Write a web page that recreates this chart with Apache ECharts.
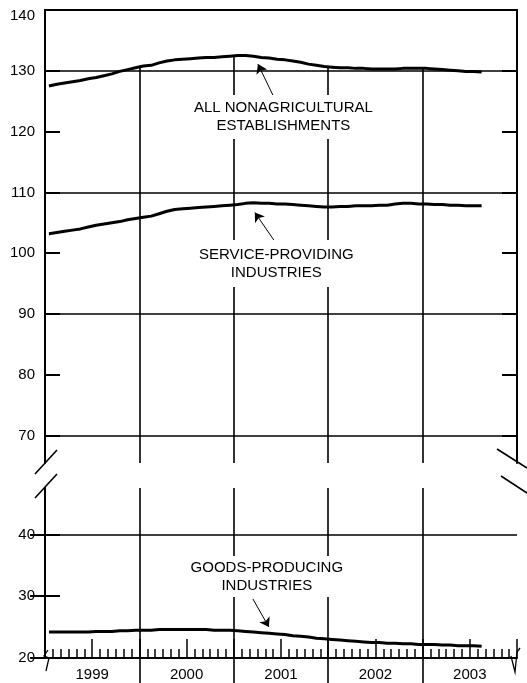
<!DOCTYPE html>
<html><head><meta charset="utf-8">
<script src="https://cdn.jsdelivr.net/npm/echarts@6/dist/echarts.min.js"></script>
<style>html,body{margin:0;padding:0;background:#fff}#c{width:527px;height:683px}</style>
</head><body><div id="c"></div>
<script>
const years = ['1999','2000','2001','2002','2003'];
const allNonag = [
127.5,127.8,128.0,128.2,128.4,128.7,128.9,129.2,129.5,129.9,130.2,130.5,
130.8,130.9,131.3,131.6,131.8,131.9,132.0,132.1,132.2,132.2,132.3,132.4,
132.5,132.5,132.4,132.2,132.1,131.9,131.8,131.6,131.4,131.1,130.9,130.7,
130.6,130.5,130.5,130.4,130.4,130.3,130.3,130.3,130.3,130.4,130.4,130.4,
130.4,130.3,130.2,130.1,130.0,129.9,129.9,129.8];
const serviceProviding = [
103.2,103.4,103.6,103.8,104.0,104.3,104.6,104.8,105.0,105.2,105.5,105.7,
105.9,106.1,106.5,106.9,107.2,107.3,107.4,107.5,107.6,107.7,107.8,107.9,
108.0,108.2,108.3,108.2,108.2,108.1,108.1,108.0,107.9,107.8,107.7,107.6,
107.6,107.7,107.7,107.8,107.8,107.8,107.9,107.9,108.1,108.2,108.2,108.1,
108.1,108.0,108.0,107.9,107.9,107.8,107.8,107.8];
const goodsProducing = [
24.2,24.2,24.2,24.2,24.2,24.2,24.3,24.3,24.3,24.4,24.4,24.5,
24.5,24.5,24.6,24.6,24.6,24.6,24.6,24.6,24.6,24.5,24.5,24.5,
24.4,24.3,24.2,24.1,24.0,23.9,23.8,23.6,23.5,23.4,23.2,23.1,
23.0,22.9,22.8,22.7,22.6,22.5,22.5,22.4,22.4,22.3,22.3,22.2,
22.2,22.2,22.1,22.1,22.0,22.0,22.0,21.9];
const topTicks = [70,80,90,100,110,120,130,140];
const topGridLines = [70,90,110,130];
const bottomTicks = [20,30,40];
const bottomGridLines = [40];

const FONT = 'Liberation Sans';
const TOP_MIN = 65.5, TOP_MAX = 140, BOT_MIN = 20, BOT_MAX = 47.5;
const XMAX = years.length * 12;
const months = allNonag.map((_, i) => i + 0.5);
const pairs = arr => arr.map((v, i) => [months[i], v]);
const boundaries = years.slice(1).map((_, i) => (i + 1) * 12);
const valAt = (arr, b) => (arr[b - 1] + arr[b]) / 2;

const hLine = v => [{coord: [0, v]}, {coord: [XMAX, v]}];
const gridLineStyle = {color: '#000', width: 1.6, type: 'solid'};

const topMarks = topGridLines.map(hLine).concat(
  boundaries.map(b => [{coord: [b, valAt(allNonag, b)]}, {coord: [b, TOP_MIN]}]));
const botMarks = bottomGridLines.map(hLine).concat(
  boundaries.map(b => [{coord: [b, BOT_MAX]}, {coord: [b, BOT_MIN]}]));

const labelBase = {
  show: true, position: 'inside', color: '#000', fontFamily: FONT, fontSize: 15,
  lineHeight: 18, align: 'center', backgroundColor: '#fff',
  textBorderWidth: 0, textBorderColor: 'transparent', opacity: 1
};
const arrowStyle = {
  silent: true, symbol: ['none', 'arrow'], symbolSize: 9,
  lineStyle: {color: '#000', width: 1, type: 'solid'}, label: {show: false},
  emphasis: {disabled: true}
};

const yTop = (pos, labels) => ({
  gridIndex: 0, type: 'value', position: pos, min: TOP_MIN, max: TOP_MAX,
  axisLine: {show: true, lineStyle: {color: '#000', width: 2}},
  axisTick: {show: true, inside: true, length: 15, customValues: topTicks, lineStyle: {color: '#000', width: 2}},
  axisLabel: {show: labels, customValues: topTicks, color: '#000', fontFamily: FONT, fontSize: 15, margin: 10,
    formatter: v => (v === TOP_MAX ? '{a|' + v + '}' : String(v)),
    rich: {a: {color: '#000', fontFamily: FONT, fontSize: 15, padding: [12, 0, 0, 0]}}},
  splitLine: {show: false}
});
const yBot = (pos, labels) => ({
  gridIndex: 1, type: 'value', position: pos, min: BOT_MIN, max: BOT_MAX,
  axisLine: {show: true, lineStyle: {color: '#000', width: 2}},
  axisTick: {show: true, inside: true, length: 15, customValues: bottomTicks, lineStyle: {color: '#000', width: 2}},
  axisLabel: {show: labels, customValues: bottomTicks, color: '#000', fontFamily: FONT, fontSize: 15, margin: 10},
  splitLine: {show: false}
});

const option = {
  animation: false,
  backgroundColor: '#fff',
  grid: [
    {left: 45, right: 10, top: 10, height: 453},
    {left: 45, right: 10, top: 488, height: 170}
  ],
  xAxis: [
    {gridIndex: 0, type: 'value', min: 0, max: XMAX, position: 'top',
     axisLine: {show: true, lineStyle: {color: '#000', width: 2}},
     axisTick: {show: false}, axisLabel: {show: false}, splitLine: {show: false}},
    {gridIndex: 1, type: 'value', min: 0, max: XMAX, interval: 6, position: 'bottom',
     axisLine: {show: true, onZero: false, lineStyle: {color: '#000', width: 2}},
     axisTick: {show: true, inside: true, length: 19, lineStyle: {color: '#000', width: 1.5}},
     minorTick: {show: true, splitNumber: 6, length: 9, lineStyle: {color: '#000', width: 1.5}},
     axisLabel: {color: '#000', fontFamily: FONT, fontSize: 15, margin: 9,
       formatter: v => (v % 12 === 6 ? years[(v - 6) / 12] : '')},
     splitLine: {show: false}, minorSplitLine: {show: false}},
    {gridIndex: 1, type: 'value', min: 0, max: XMAX, position: 'bottom',
     axisLine: {show: false, onZero: false},
     axisTick: {show: true, inside: false, length: 26, customValues: boundaries, lineStyle: {color: '#000', width: 1.6}},
     axisLabel: {show: false}, splitLine: {show: false}}
  ],
  yAxis: [yTop('left', true), yTop('right', false), yBot('left', true), yBot('right', false)],
  series: [
    {type: 'line', name: 'gridTop', xAxisIndex: 0, yAxisIndex: 0, data: [], z: 1, silent: true,
     markLine: {silent: true, symbol: 'none', lineStyle: gridLineStyle, label: {show: false},
       emphasis: {disabled: true}, data: topMarks}},
    {type: 'line', name: 'gridBottom', xAxisIndex: 1, yAxisIndex: 2, data: [], z: 1, silent: true,
     markLine: {silent: true, symbol: 'none', lineStyle: gridLineStyle, label: {show: false},
       emphasis: {disabled: true}, data: botMarks}},
    {type: 'line', name: 'All nonagricultural establishments', xAxisIndex: 0, yAxisIndex: 0,
     data: pairs(allNonag), showSymbol: false, z: 3, lineStyle: {color: '#000', width: 3}},
    {type: 'line', name: 'Service-providing industries', xAxisIndex: 0, yAxisIndex: 0,
     data: pairs(serviceProviding), showSymbol: false, z: 3, lineStyle: {color: '#000', width: 3}},
    {type: 'line', name: 'Goods-producing industries', xAxisIndex: 1, yAxisIndex: 2,
     data: pairs(goodsProducing), showSymbol: false, z: 3, lineStyle: {color: '#000', width: 3}},
    {type: 'scatter', name: 'annotTop', xAxisIndex: 0, yAxisIndex: 0, z: 5, silent: true,
     symbolSize: 0, itemStyle: {color: '#000', opacity: 1},
     data: [
       {value: [30.3, 122.4], label: Object.assign({}, labelBase, {formatter: 'ALL NONAGRICULTURAL\nESTABLISHMENTS', padding: [6, 4, 2, 4]})},
       {value: [29.4, 98.3], label: Object.assign({}, labelBase, {formatter: 'SERVICE-PROVIDING\nINDUSTRIES', padding: [5, 4, 6, 4]})}
     ],
     markLine: Object.assign({}, arrowStyle, {data: [
       [{coord: [28.97, 126.0]}, {coord: [27.07, 131.1]}],
       [{coord: [29.23, 101.9]}, {coord: [26.68, 106.7]}]
     ]})},
    {type: 'scatter', name: 'annotBottom', xAxisIndex: 1, yAxisIndex: 2, z: 5, silent: true,
     symbolSize: 0, itemStyle: {color: '#000', opacity: 1},
     data: [
       {value: [28.2, 33.2], label: Object.assign({}, labelBase, {formatter: 'GOODS-PRODUCING\nINDUSTRIES', padding: [5, 4, 0, 4]})}
     ],
     markLine: Object.assign({}, arrowStyle, {data: [
       [{coord: [26.43, 29.55]}, {coord: [28.46, 25.0]}]
     ]})}
  ],
  graphic: [
    {type: 'line', shape: {x1: 35, y1: 474, x2: 57, y2: 450}, style: {stroke: '#000', lineWidth: 1.6}},
    {type: 'line', shape: {x1: 35, y1: 498, x2: 57, y2: 474}, style: {stroke: '#000', lineWidth: 1.6}},
    {type: 'line', shape: {x1: 497, y1: 449, x2: 527, y2: 468}, style: {stroke: '#000', lineWidth: 1.6}},
    {type: 'line', shape: {x1: 501, y1: 476, x2: 527, y2: 493}, style: {stroke: '#000', lineWidth: 1.6}},
    {type: 'polyline', shape: {points: [[48, 650], [44, 656], [49, 658], [46, 671]]}, style: {stroke: '#000', lineWidth: 1.3, fill: null}},
    {type: 'polyline', shape: {points: [[511, 656], [515, 672], [517, 652], [520, 648]]}, style: {stroke: '#000', lineWidth: 1.3, fill: null}}
  ]
};
const chart = echarts.init(document.getElementById('c'), null, {renderer: 'canvas'});
chart.setOption(option);
</script>
</body></html>
